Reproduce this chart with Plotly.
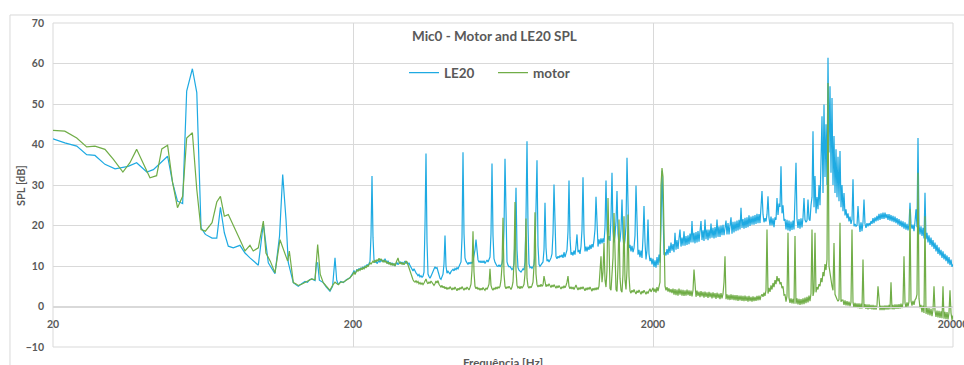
import numpy as np
import plotly.graph_objects as go


def vals(text):
    return [float(v) for v in text.split()]


# ---- 20 Hz .. 200 Hz: coarse spectrum lines (Hz, dB) ----
LE20_LOW_HZ = [20.0, 21.9, 24.0, 25.9, 27.6, 29.8, 32.2, 35.6, 38.0, 41.1,
               43.2, 48.2, 50.1, 52.0, 54.1, 55.8, 58.3, 60.3, 62.3, 64.4,
               67.8, 70.3, 72.3, 74.5, 76.8, 79.8, 84.0, 87.3, 90.7, 93.0,
               96.7, 100.5, 104.4, 109.9, 113.8, 116.6, 119.6, 121.7, 126.5, 128.9,
               131.4, 134.8, 138.4, 141.0, 143.3, 145.7, 149.4, 151.0, 152.5, 154.5,
               159.2, 163.0, 167.6, 171.0, 174.2, 176.5, 178.7, 182.0, 185.7, 190.0,
               195.4]
LE20_LOW_DB = [41.4, 40.4, 39.6, 37.5, 37.3, 35.1, 34.0, 34.6, 35.5, 33.2,
               33.8, 37.1, 30.5, 26.0, 25.4, 53.2, 58.7, 52.8, 19.4, 17.8,
               16.9, 16.9, 24.5, 18.2, 14.9, 14.5, 15.1, 13.2, 12.0, 11.2,
               10.2, 20.5, 10.8, 8.1, 17.4, 32.6, 21.5, 10.8, 5.9, 5.4,
               5.0, 5.6, 6.2, 6.0, 6.6, 6.8, 6.4, 10.8, 10.8, 6.5,
               5.9, 4.8, 3.8, 5.0, 12.0, 6.5, 5.4, 6.2, 5.9, 6.6,
               7.1]

MOTOR_LOW_HZ = [20.0, 21.9, 24.0, 25.9, 27.6, 29.8, 31.8, 34.2, 36.1, 38.0,
                42.1, 44.3, 46.1, 48.2, 50.1, 52.0, 54.1, 55.8, 58.3, 60.3,
                62.3, 64.4, 67.8, 70.3, 72.3, 74.5, 76.8, 79.8, 84.0, 87.3,
                90.7, 93.0, 96.7, 100.5, 102.5, 106.0, 109.9, 114.2, 118.7, 121.1,
                122.7, 126.5, 128.9, 131.4, 134.8, 138.4, 141.0, 143.3, 145.7, 149.4,
                152.5, 155.5, 159.2, 163.0, 167.6, 171.0, 174.2, 178.7, 182.0, 185.7,
                190.0, 195.4]
MOTOR_LOW_DB = [43.5, 43.3, 41.6, 39.4, 39.6, 38.8, 36.3, 33.2, 35.5, 38.8,
                31.8, 32.3, 38.9, 39.8, 30.5, 24.4, 27.2, 41.6, 42.9, 28.9,
                19.0, 18.6, 20.7, 25.8, 27.2, 22.3, 22.7, 20.2, 16.5, 13.7,
                15.1, 13.7, 14.5, 21.1, 13.2, 11.2, 8.3, 16.5, 13.2, 11.2,
                13.7, 5.9, 5.6, 5.2, 5.5, 6.0, 6.2, 6.5, 6.8, 6.6,
                15.3, 8.0, 5.9, 5.0, 4.0, 5.2, 6.0, 5.4, 6.0, 6.0,
                6.5, 7.1]

# ---- 200 Hz .. 2 kHz: log-spaced bins, dB ----
LE20_MID_DB = vals("""
8.3 8.9 8.1 8.6 9.2 8.8 9.4 9.0 9.6 9.2
9.8 9.4 10.1 9.7 10.4 10.0 10.6 11.2 17.5 32.2
17.0 11.5 10.8 11.3 10.6 11.0 11.4 10.9 11.6 11.1
11.5 11.0 11.8 11.2 10.7 11.3 10.5 10.9 10.3 10.8
10.2 10.6 10.0 10.5 10.9 10.3 10.7 11.1 10.6 11.0
10.5 10.9 11.2 10.6 11.0 10.4 10.8 10.1 9.6 9.0
8.8 9.3 8.6 8.3 8.0 7.6 7.9 7.3 7.6 7.2
7.5 8.5 20.0 37.8 16.0 8.0 7.4 7.0 7.5 8.2
8.8 9.3 9.8 9.4 9.6 8.7 7.6 7.0 6.7 7.4
8.0 10.5 17.5 10.0 8.2 8.7 8.3 8.0 8.6 8.9
9.2 8.8 9.4 9.1 9.6 9.3 9.8 10.2 11.0 17.0
38.1 18.0 12.0 11.2 10.8 10.4 10.9 10.5 11.0 10.6
11.2 12.5 14.0 16.5 13.0 11.5 10.9 11.3 10.8 11.2
10.8 11.3 10.6 11.0 11.5 11.0 11.6 12.2 18.0 35.3
17.5 11.8 10.9 10.4 10.0 9.9 10.3 9.8 10.2 10.6
12.0 19.0 36.5 18.0 11.0 10.2 9.8 9.9 9.5 9.1
9.4 10.5 17.0 29.3 14.0 9.6 9.0 8.7 8.5 8.9
9.3 9.0 11.0 22.0 40.8 20.0 10.5 9.6 9.8 9.4
9.9 10.3 13.0 24.0 36.1 15.0 10.4 9.9 10.3 10.8
11.0 14.0 25.6 14.5 11.2 11.6 11.0 11.5 12.0 13.0
18.0 30.1 16.0 12.3 11.8 12.4 12.0 12.6 12.2 12.8
12.0 13.4 12.2 13.6 14.0 18.5 31.1 17.0 12.8 13.4
12.6 13.8 12.8 15.0 17.8 13.4 14.0 13.0 14.8 19.0
31.9 18.0 13.6 14.8 13.6 14.8 14.0 15.2 14.2 15.4
14.6 16.4 19.0 27.1 17.5 14.8 16.6 15.4 16.8 15.6
16.8 15.8 19.5 31.1 19.0 16.4 17.4 16.2 22.0 33.0
18.5 15.8 17.6 21.0 28.5 18.0 15.4 16.2 19.0 26.4
17.0 14.6 16.4 20.0 36.7 19.5 14.4 15.2 13.6 15.0
13.4 14.4 17.5 29.9 17.0 12.8 14.0 12.2 13.8 12.0
17.0 24.8 16.0 11.6 13.8 21.5 13.0 11.2 12.0 10.4
""")

MOTOR_MID_DB = vals("""
8.0 8.6 7.9 8.4 9.0 8.7 9.2 8.9 9.5 9.1
9.6 9.3 9.9 9.5 10.2 9.8 10.4 10.8 10.5 10.9
11.2 10.8 11.5 11.0 11.6 11.2 11.9 11.4 11.8 11.3
11.0 11.5 10.9 11.3 10.6 11.0 10.4 10.9 10.2 10.7
10.1 10.6 10.0 10.8 11.5 12.0 11.0 10.5 10.9 10.4
10.8 10.3 10.7 11.2 11.0 10.2 9.5 8.6 7.6 6.9
6.6 6.2 6.0 6.4 5.9 6.2 5.6 5.9 5.5 5.8
5.4 5.8 6.2 6.8 6.0 5.6 6.1 5.7 6.3 6.0
5.6 5.2 5.6 6.3 5.8 6.4 5.5 5.0 4.8 5.2
4.6 5.0 4.4 4.8 4.2 4.7 4.3 4.9 4.5 4.1
4.6 4.2 4.8 4.4 3.9 4.5 4.1 4.7 4.3 4.9
4.4 4.0 4.6 4.2 4.8 4.4 4.1 4.7 5.5 9.0
18.6 8.5 5.0 4.4 4.8 4.2 4.6 4.0 4.5 4.1
4.7 4.3 4.0 4.6 4.2 4.8 5.5 9.3 5.2 4.4
4.0 4.6 4.2 4.8 4.3 4.9 4.5 5.0 6.5 10.0
21.9 8.0 5.0 4.4 4.9 4.5 5.0 4.6 4.2 4.8
6.0 11.0 25.8 9.0 5.2 4.6 4.9 4.4 5.0 4.6
4.9 5.5 8.0 21.7 7.0 5.0 4.5 5.0 4.6 5.2
6.0 10.0 23.3 8.0 5.4 4.8 5.3 4.9 5.5 5.0
5.3 7.5 5.6 4.9 5.4 5.0 5.6 5.1 4.7 5.3
4.8 5.4 4.9 4.5 5.1 4.6 5.2 4.7 4.3 4.9
4.5 5.1 4.6 5.2 6.0 7.5 5.0 4.4 4.9 4.3
4.8 4.2 4.7 5.3 4.6 4.1 4.7 4.2 4.8 4.3
4.9 4.4 3.9 4.6 4.1 4.7 4.2 4.8 4.3 3.8
4.5 4.0 4.6 4.1 4.7 4.2 5.0 8.0 12.4 6.0
8.5 15.7 6.5 4.8 9.0 26.8 10.0 4.5 4.0 8.0
12.0 23.1 9.0 4.2 3.7 10.0 21.5 7.0 4.0 3.5
8.0 22.3 6.5 4.2 9.0 22.7 7.5 3.8 3.3 4.0
3.5 4.2 3.6 3.1 3.9 3.4 4.1 3.5 3.0 3.8
3.3 4.0 3.5 3.0 3.7 3.2 3.9 4.4 3.6 4.0
""")

# ---- 2 kHz .. 20 kHz: log-spaced bins, dB ----
LE20_HIGH_DB = vals("""
11.8 9.8 11.4 9.6 12.2 10.2 12.8 10.8 20.0 33.5
24.0 12.8 13.4 12.6 14.2 12.8 15.0 13.2 15.8 13.8
15.4 13.4 18.2 14.0 16.4 14.2 16.8 19.0 14.8 17.0
15.0 18.6 15.0 17.4 15.2 17.6 15.4 18.0 15.8 21.1
15.8 18.2 15.6 18.4 15.8 18.6 16.0 18.2 21.1 16.4
18.8 16.2 21.5 16.6 19.0 16.4 19.0 16.8 20.5 17.0
19.4 16.8 19.6 17.0 21.5 17.2 19.8 17.2 20.0 17.6
20.2 17.6 20.4 21.2 17.8 20.6 17.8 20.6 22.0 18.0
20.9 18.3 21.0 18.6 21.2 18.8 21.4 19.0 24.4 19.4
21.6 19.2 21.9 19.4 22.0 19.6 22.5 19.9 22.2 20.2
22.4 20.2 22.6 20.4 22.9 20.6 22.8 20.6 23.5 28.5
22.8 20.8 21.8 21.0 22.8 27.2 21.9 20.0 22.2 20.0
21.8 19.6 22.0 21.4 26.8 22.6 25.4 24.6 34.6 23.0
25.0 21.2 21.6 19.0 21.4 18.8 21.2 18.6 21.0 18.9
21.2 19.0 27.0 35.5 21.6 19.4 21.6 19.2 21.8 19.5
22.0 26.8 21.4 20.8 21.2 26.4 21.6 21.2 25.0 27.0
43.3 24.5 32.2 23.0 27.0 24.0 30.0 25.0 36.0 47.0
28.0 49.9 32.0 45.0 30.0 61.4 38.0 54.4 33.0 51.5
30.0 42.1 28.0 38.8 27.0 37.0 26.0 38.4 24.5 30.0
23.5 28.0 22.5 24.0 21.8 23.0 21.0 22.2 20.4 21.5
31.4 19.8 20.4 19.8 20.0 24.8 20.6 18.4 20.8 18.6
20.8 26.4 20.4 19.4 20.6 19.8 20.6 20.0 21.1 20.4
21.8 20.6 22.0 21.0 22.4 21.2 22.9 21.4 23.0 21.6
23.2 21.6 23.2 21.8 22.8 21.4 22.8 21.2 22.6 21.0
22.4 20.8 22.2 20.6 21.8 20.2 21.6 19.9 21.2 19.6
21.0 19.2 20.8 19.0 20.4 18.8 20.2 25.6 20.4 19.2
20.2 18.6 21.0 24.0 19.6 41.6 20.2 17.8 19.8 17.4
19.4 16.8 28.1 16.6 18.2 15.8 17.6 15.2 17.0 14.8
16.4 14.2 15.8 13.6 15.2 13.0 14.6 12.6 14.0 12.0
13.6 11.6 13.0 11.2 12.6 10.6 12.2 10.2 11.6 9.8
10.4
""")

MOTOR_HIGH_DB = vals("""
4.6 3.6 4.4 3.4 4.8 3.8 5.0 6.0 30.0 34.2
32.0 12.0 5.0 4.0 4.8 3.7 4.5 3.5 4.3 3.3
4.4 2.9 4.3 2.8 4.2 2.7 4.4 2.9 4.2 2.7
4.1 2.6 4.0 2.7 4.2 2.8 4.0 2.6 3.9 2.5
4.0 9.1 3.8 2.4 3.9 2.6 3.7 2.3 3.8 2.5
3.6 2.2 3.7 2.4 3.5 2.1 3.6 2.3 3.4 2.0
3.5 2.2 3.3 1.9 3.4 2.1 3.2 1.8 3.3 2.0
3.1 6.0 12.4 1.8 3.0 1.7 2.9 1.6 3.0 1.7
2.9 1.6 2.8 1.5 2.8 1.4 2.7 1.5 2.7 1.4
2.6 1.3 2.7 1.4 2.5 1.2 2.6 1.3 2.4 1.2
2.5 1.3 2.4 1.4 2.6 1.5 2.7 1.6 2.6 3.0
2.4 3.4 2.6 4.0 19.0 3.2 4.6 3.6 5.2 4.2
5.8 4.8 6.5 5.5 7.5 6.2 7.0 5.5 6.0 4.5
5.0 2.8 2.9 1.2 2.6 18.2 2.2 0.9 2.0 0.8
1.9 0.7 17.4 0.7 2.0 0.5 1.9 0.4 1.8 0.5
2.0 0.6 2.2 0.8 2.4 1.0 2.7 1.3 3.2 19.0
2.6 3.8 18.2 3.5 4.8 4.2 5.5 5.0 7.0 6.0
8.5 7.5 10.5 9.0 11.6 55.2 10.0 8.0 6.5 5.0
4.0 15.7 3.0 2.2 1.8 1.3 1.7 20.7 1.2 1.6
1.6 0.4 1.5 0.3 1.3 0.2 1.2 0.1 1.1 19.0
1.0 -0.2 0.9 -0.3 0.8 -0.4 0.8 -0.5 0.7 -0.5
11.6 -0.3 0.6 -0.6 0.5 -0.7 0.5 -0.6 0.4 -0.7
0.4 -0.8 0.3 -0.8 0.3 5.0 0.3 -0.9 0.2 -0.9
0.2 -0.9 0.3 -0.8 0.3 -0.8 0.4 -0.7 6.0 -0.7
0.4 -0.7 0.5 -0.6 0.5 -0.6 0.6 -0.5 0.7 -0.4
0.8 12.4 0.9 -0.2 1.0 0.0 1.2 24.0 1.4 0.2
1.4 0.4 1.6 2.0 3.0 33.0 2.0 -0.4 0.4 -1.4
0.2 -1.6 22.3 -1.8 -0.2 -2.0 -0.4 -2.2 -0.6 -2.4
-0.8 5.0 -1.0 -2.6 -1.0 -2.7 -1.1 -2.8 -1.2 -2.9
5.0 -3.0 -1.3 -3.1 -1.4 -3.2 -1.5 4.0 -1.6 -3.3
-2.2
""")

X_TICKS = [20, 200, 2000, 20000]
X_TICK_TEXT = ["20", "200", "2000", "20000"]
Y_TICKS = [-10, 0, 10, 20, 30, 40, 50, 60, 70]

TITLE = "Mic0 - Motor and LE20 SPL"
X_TITLE = "Frequência [Hz]"
Y_TITLE = "SPL [dB]"

BLUE = "#1EAAE2"
GREEN = "#70AD47"
GRID = "#D9D9D9"
TEXT = "#595959"
FONT = "Lato"


def mid_bins(n):
    return np.geomspace(200.0, 2000.0, n + 1)[:-1]


def high_bins(n):
    return np.geomspace(2000.0, 20000.0, n)


le20_hz = np.concatenate([LE20_LOW_HZ, mid_bins(len(LE20_MID_DB)), high_bins(len(LE20_HIGH_DB))])
le20_db = np.concatenate([LE20_LOW_DB, LE20_MID_DB, LE20_HIGH_DB])
motor_hz = np.concatenate([MOTOR_LOW_HZ, mid_bins(len(MOTOR_MID_DB)), high_bins(len(MOTOR_HIGH_DB))])
motor_db = np.concatenate([MOTOR_LOW_DB, MOTOR_MID_DB, MOTOR_HIGH_DB])

fig = go.Figure()
fig.add_trace(go.Scatter(x=le20_hz, y=le20_db, mode="lines", name="LE20",
                         line=dict(color=BLUE, width=1.2)))
fig.add_trace(go.Scatter(x=motor_hz, y=motor_db, mode="lines", name="motor",
                         line=dict(color=GREEN, width=1.2)))

tick_font = dict(family=FONT, size=10.5, color=TEXT, weight="bold")

fig.update_layout(
    width=964, height=365,
    margin=dict(l=53, r=11, t=23, b=18, autoexpand=False),
    paper_bgcolor="white", plot_bgcolor="white",
    showlegend=True,
    legend=dict(orientation="h", x=0.39, y=0.846, xanchor="left", yanchor="middle",
                entrywidth=44, entrywidthmode="pixels",
                font=dict(family=FONT, size=13.5, color=TEXT, weight="bold"),
                bgcolor="rgba(0,0,0,0)", borderwidth=0),
    xaxis=dict(type="log", range=[np.log10(20), np.log10(20000)],
               tickvals=X_TICKS, ticktext=X_TICK_TEXT, ticks="",
               showgrid=True, gridcolor=GRID, gridwidth=1,
               showline=True, linecolor=GRID, linewidth=1,
               anchor="free", position=0.125, zeroline=False, automargin=False,
               tickfont=tick_font, ticklabelstandoff=8, ticklabeloverflow="allow"),
    yaxis=dict(range=[-10, 70], tickvals=Y_TICKS, ticks="",
               showgrid=True, gridcolor=GRID, gridwidth=1, zeroline=False,
               showline=False, automargin=False, tickfont=tick_font, ticklabelstandoff=8),
    annotations=[
        dict(text=TITLE, xref="paper", yref="paper", x=0.49, y=0.96,
             xanchor="center", yanchor="middle", showarrow=False,
             font=dict(family=FONT, size=13.5, color=TEXT, weight="bold")),
        dict(text=X_TITLE, xref="paper", yref="paper", x=0.5, y=-0.022,
             xanchor="center", yanchor="top", showarrow=False,
             font=dict(family=FONT, size=11.5, color=TEXT, weight="bold")),
        dict(text=Y_TITLE, xref="paper", yref="paper", x=-0.0367, y=0.5,
             xanchor="center", yanchor="middle", textangle=-90, showarrow=False,
             font=dict(family=FONT, size=11, color=TEXT, weight="bold")),
    ],
    shapes=[
        dict(type="rect", xref="paper", yref="paper", x0=-0.0478, x1=1.06, y0=-0.25, y1=1.0247,
             line=dict(color=GRID, width=1), layer="below"),
        dict(type="rect", xref="paper", yref="paper", x0=0, x1=1, y0=0, y1=1,
             line=dict(color=GRID, width=1), layer="below"),
    ],
)

fig.write_html("out.html")
